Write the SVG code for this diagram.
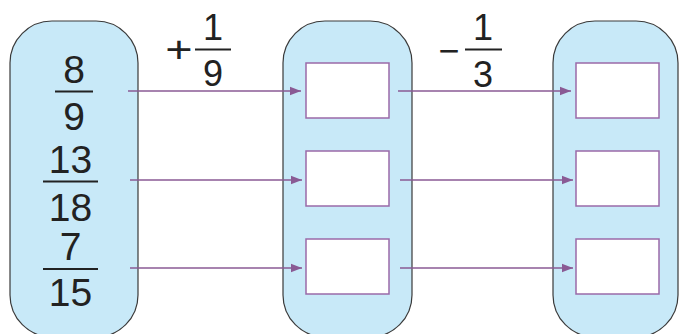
<svg xmlns="http://www.w3.org/2000/svg" width="679" height="334" viewBox="0 0 679 334">
<style>
.pill{fill:#c8e9f8;stroke:#3a3a3a;stroke-width:1.2}
.box{fill:#ffffff;stroke:#9a6aa8;stroke-width:1.5}
.conn{stroke:#8a5a94;stroke-width:1.3;fill:none}
.t{font-family:"Liberation Sans",Arial,sans-serif;font-size:39px;fill:#222;text-anchor:middle}
.t2{font-family:"Liberation Sans",Arial,sans-serif;font-size:36px;fill:#222;text-anchor:middle}
.bar{stroke:#222;stroke-width:2}
</style>
<defs>
<marker id="ah" markerWidth="12" markerHeight="10" refX="11" refY="5" orient="auto" markerUnits="userSpaceOnUse">
<path d="M0,0.8 L11,5 L0,9.2 Z" fill="#8a5a94"/>
</marker>
</defs>
<rect width="679" height="334" fill="#ffffff"/>
<g id="col1">
<rect class="pill" x="10" y="21" width="128" height="316" rx="42" ry="42"/>
<text class="t" x="74" y="83">8</text>
<line class="bar" x1="55" y1="91.5" x2="93" y2="91.5"/>
<text class="t" x="74" y="130">9</text>
<text class="t" x="70.5" y="173">13</text>
<line class="bar" x1="43" y1="181.5" x2="98" y2="181.5"/>
<text class="t" x="70.5" y="221">18</text>
<text class="t" x="70.5" y="260">7</text>
<line class="bar" x1="43" y1="269" x2="98" y2="269"/>
<text class="t" x="70.5" y="306">15</text>
</g>
<g id="col2">
<rect class="pill" x="283" y="21" width="129" height="316" rx="42" ry="42"/>
<rect class="box" x="306" y="63" width="83" height="55"/>
<rect class="box" x="306" y="151" width="83" height="55"/>
<rect class="box" x="306" y="239" width="83" height="55"/>
</g>
<g id="col3">
<rect class="pill" x="553" y="21" width="125" height="316" rx="42" ry="42"/>
<rect class="box" x="576" y="63" width="83" height="55"/>
<rect class="box" x="576" y="151" width="83" height="55"/>
<rect class="box" x="576" y="239" width="83" height="55"/>
</g>
<g id="op1">
<text class="t2" transform="translate(179,62) scale(1.3,1)" x="0" y="0">+</text>
<text class="t2" x="213" y="40">1</text>
<line class="bar" x1="195" y1="49.5" x2="231" y2="49.5"/>
<text class="t2" x="213" y="86">9</text>
</g>
<g id="op2">
<text class="t2" x="449" y="63">−</text>
<text class="t2" x="483" y="40">1</text>
<line class="bar" x1="465" y1="49.5" x2="502" y2="49.5"/>
<text class="t2" x="483" y="87">3</text>
</g>
<g id="connectors">
<line class="conn" x1="128" y1="91" x2="301" y2="91" marker-end="url(#ah)"/>
<line class="conn" x1="130" y1="180" x2="302" y2="180" marker-end="url(#ah)"/>
<line class="conn" x1="130" y1="268" x2="302" y2="268" marker-end="url(#ah)"/>
<line class="conn" x1="398" y1="91" x2="571" y2="91" marker-end="url(#ah)"/>
<line class="conn" x1="400" y1="180" x2="573" y2="180" marker-end="url(#ah)"/>
<line class="conn" x1="400" y1="268" x2="573" y2="268" marker-end="url(#ah)"/>
</g>
</svg>
